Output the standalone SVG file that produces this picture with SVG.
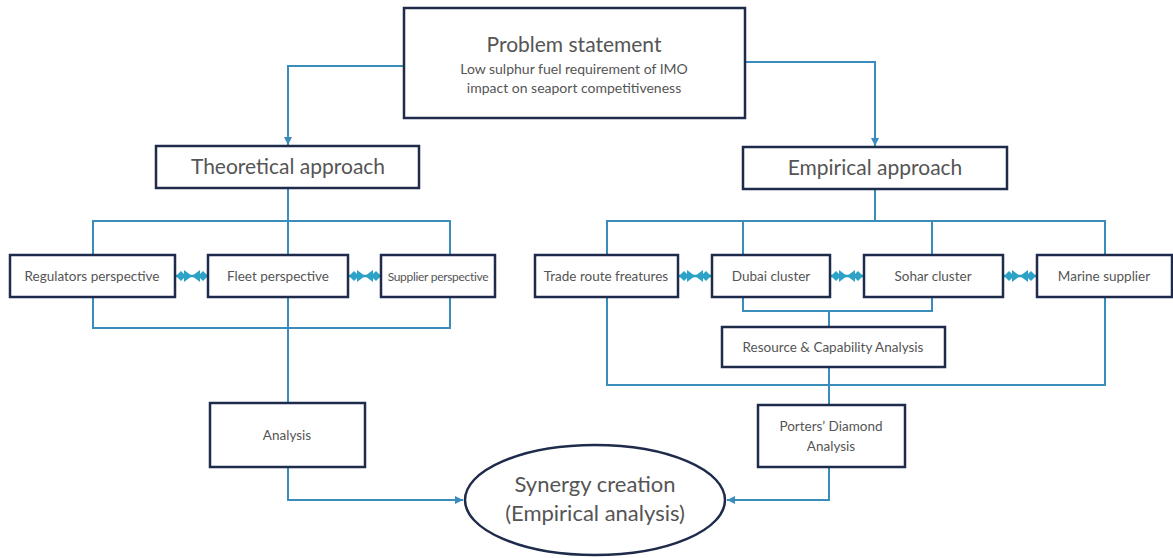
<svg xmlns="http://www.w3.org/2000/svg" width="1173" height="558" viewBox="0 0 1173 558">
<defs>
<style>
.box{fill:#ffffff;stroke:#1e2b4a;stroke-width:2.5}
.ln{fill:none;stroke:#3a8cbb;stroke-width:2}
.ar{fill:none;stroke:#3a8cbb;stroke-width:2;marker-end:url(#ah)}
.bi{fill:#2ba2c6}
.t{font-family:Lato,"Open Sans","Liberation Sans",sans-serif;fill:#555555;text-anchor:middle}
.big{font-size:21px}
.sm{font-size:13.5px}
</style>
<marker id="ah" markerUnits="userSpaceOnUse" markerWidth="10" markerHeight="10" refX="8" refY="4" orient="auto">
<path d="M0,0 L8,4 L0,8 z" fill="#3a8cbb"/>
</marker>
<g id="biarrow">
<line x1="0" y1="0" x2="32" y2="0" stroke="#2ba2c6" stroke-width="2.5"/>
<polygon class="bi" points="0,0 5,-5 10,0 5,5"/>
<polygon class="bi" points="8,-6 16,0 8,6"/>
<polygon class="bi" points="24,-6 16,0 24,6"/>
<polygon class="bi" points="22,0 27,-5 32,0 27,5"/>
</g>
</defs>

<g id="connectors">
<path class="ar" d="M404,66 H288 V145"/>
<path class="ar" d="M745,62 H875 V146"/>
<path class="ln" d="M288,188 V255 M93,255 V221 H450 V255"/>
<path class="ln" d="M93,297 V328 H450 V297 M288,297 V403"/>
<path class="ar" d="M288,467 V500 H463"/>
<path class="ln" d="M875,189 V221 M607,255 V221 H1105 V255 M743,221 V255 M932,221 V255"/>
<path class="ln" d="M743,297 V311 H932 V297 M829,311 V327"/>
<path class="ln" d="M607,297 V385 H1105 V297 M829,367 V405"/>
<path class="ar" d="M829,467 V500 H727"/>
<use href="#biarrow" x="176" y="276"/>
<use href="#biarrow" x="349" y="276"/>
<use href="#biarrow" x="679" y="276"/>
<use href="#biarrow" x="831" y="276"/>
<use href="#biarrow" x="1004" y="276"/>
</g>

<g id="problem">
<rect class="box" x="404" y="8" width="341" height="110"/>
<text class="t big" x="574" y="52">Problem statement</text>
<text class="t" x="574" y="74" font-size="14">Low sulphur fuel requirement of IMO</text>
<text class="t" x="574" y="93" font-size="14">impact on seaport competitiveness</text>
</g>
<g id="theoretical">
<rect class="box" x="156" y="146" width="263" height="42"/>
<text class="t big" x="288" y="174">Theoretical approach</text>
</g>
<g id="empirical">
<rect class="box" x="743" y="147" width="264" height="42"/>
<text class="t big" x="875" y="175">Empirical approach</text>
</g>
<g id="regulators">
<rect class="box" x="10" y="255" width="165" height="42"/>
<text class="t sm" x="92" y="281">Regulators perspective</text>
</g>
<g id="fleet">
<rect class="box" x="208" y="255" width="140" height="42"/>
<text class="t sm" x="278" y="281">Fleet perspective</text>
</g>
<g id="supplier">
<rect class="box" x="381" y="255" width="114" height="42"/>
<text class="t" x="438" y="281" font-size="12" letter-spacing="-0.3">Supplier perspective</text>
</g>
<g id="trade">
<rect class="box" x="535" y="255" width="143" height="42"/>
<text class="t sm" x="606" y="281">Trade route freatures</text>
</g>
<g id="dubai">
<rect class="box" x="712" y="255" width="118" height="42"/>
<text class="t sm" x="771" y="281">Dubai cluster</text>
</g>
<g id="sohar">
<rect class="box" x="864" y="255" width="139" height="42"/>
<text class="t sm" x="933" y="281">Sohar cluster</text>
</g>
<g id="marine">
<rect class="box" x="1037" y="255" width="135" height="42"/>
<text class="t sm" x="1104" y="281">Marine supplier</text>
</g>
<g id="resource">
<rect class="box" x="722" y="327" width="223" height="40"/>
<text class="t sm" x="833" y="352">Resource &amp; Capability Analysis</text>
</g>
<g id="analysis">
<rect class="box" x="210" y="403" width="155" height="64"/>
<text class="t sm" x="287" y="440">Analysis</text>
</g>
<g id="porters">
<rect class="box" x="758" y="405" width="147" height="62"/>
<text class="t sm" x="831" y="431">Porters’ Diamond</text>
<text class="t sm" x="831" y="451">Analysis</text>
</g>
<g id="synergy">
<ellipse cx="595" cy="500" rx="130" ry="55" fill="#ffffff" stroke="#1e2b4a" stroke-width="2.5"/>
<text class="t" x="595" y="492" font-size="22">Synergy creation</text>
<text class="t" x="595" y="521" font-size="22">(Empirical analysis)</text>
</g>
</svg>
